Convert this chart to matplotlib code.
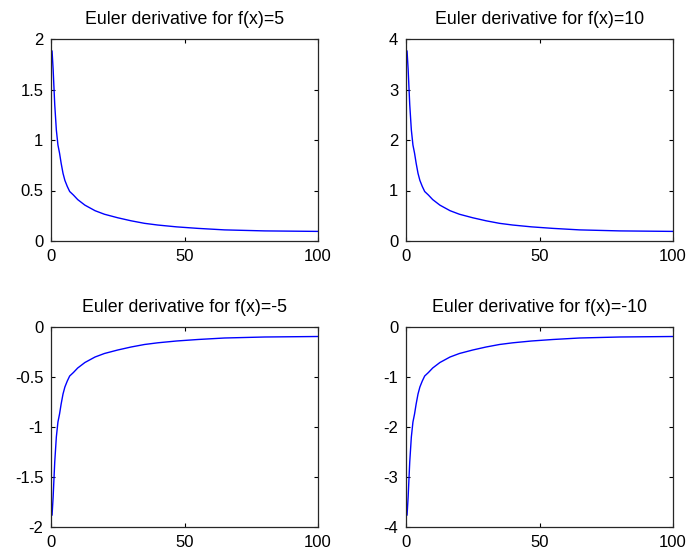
import matplotlib
matplotlib.use("Agg")
import matplotlib.pyplot as plt

plt.rcParams['font.family'] = ['Liberation Sans', 'DejaVu Sans']

# x positions
x_pts = [0.4, 0.8, 1.4, 2.0, 2.6, 3.2, 3.8, 4.5, 5.2, 6.1, 7.0, 8.4, 10,
         12.7, 16.5, 20, 25, 30, 35, 40, 47, 55, 65, 80, 100]

# values read for each panel
y_pos5 = [1.88, 1.70, 1.35, 1.10, 0.95, 0.87, 0.77, 0.67, 0.60, 0.54, 0.49,
          0.455, 0.41, 0.355, 0.30, 0.265, 0.23, 0.20, 0.175, 0.158, 0.14,
          0.125, 0.11, 0.10, 0.095]
y_pos10 = [3.76, 3.40, 2.70, 2.20, 1.90, 1.74, 1.54, 1.34, 1.20, 1.08, 0.98,
           0.91, 0.82, 0.71, 0.60, 0.53, 0.46, 0.40, 0.35, 0.316, 0.28,
           0.25, 0.22, 0.20, 0.19]
y_neg5 = [-1.88, -1.70, -1.35, -1.10, -0.95, -0.87, -0.77, -0.67, -0.60, -0.54,
          -0.49, -0.455, -0.41, -0.355, -0.30, -0.265, -0.23, -0.20, -0.175,
          -0.158, -0.14, -0.125, -0.11, -0.10, -0.095]
y_neg10 = [-3.76, -3.40, -2.70, -2.20, -1.90, -1.74, -1.54, -1.34, -1.20, -1.08,
           -0.98, -0.91, -0.82, -0.71, -0.60, -0.53, -0.46, -0.40, -0.35,
           -0.316, -0.28, -0.25, -0.22, -0.20, -0.19]

titles = ['Euler derivative for f(x)=5', 'Euler derivative for f(x)=10',
          'Euler derivative for f(x)=-5', 'Euler derivative for f(x)=-10']
series = [y_pos5, y_pos10, y_neg5, y_neg10]
ylims = [(0, 2), (0, 4), (-2, 0), (-4, 0)]
yticks = [[0, 0.5, 1, 1.5, 2], [0, 1, 2, 3, 4],
          [-2, -1.5, -1, -0.5, 0], [-4, -3, -2, -1, 0]]
xticks = [0, 50, 100]

fig = plt.figure(figsize=(6.89, 5.56), dpi=100)
rects = [
    [51 / 689, 1 - 241 / 556, 267 / 689, 202 / 556],
    [406 / 689, 1 - 241 / 556, 267 / 689, 202 / 556],
    [51 / 689, 1 - 527 / 556, 267 / 689, 200 / 556],
    [406 / 689, 1 - 527 / 556, 267 / 689, 200 / 556],
]

def fmt(v):
    return '%g' % v

for r, ys, t, yl, yt in zip(rects, series, titles, ylims, yticks):
    ax = fig.add_axes(r)
    ax.plot(x_pts, ys, color='#0000ff', linewidth=1.0)
    ax.set_xlim(0, 100)
    ax.set_ylim(*yl)
    ax.set_xticks(xticks)
    ax.set_xticklabels([fmt(v) for v in xticks])
    ax.set_yticks(yt)
    ax.set_yticklabels([fmt(v) for v in yt])
    ax.tick_params(direction='in', length=3, width=0.8, top=True, right=True,
                   labelsize=12, colors='black')
    ax.tick_params(axis='x', pad=6)
    ax.tick_params(axis='y', pad=5.5)
    for sp in ax.spines.values():
        sp.set_linewidth(0.9)
        sp.set_color('#262626')
    ax.set_title(t, fontsize=12.8, pad=10.5)

fig.savefig('out.png', dpi=100)
